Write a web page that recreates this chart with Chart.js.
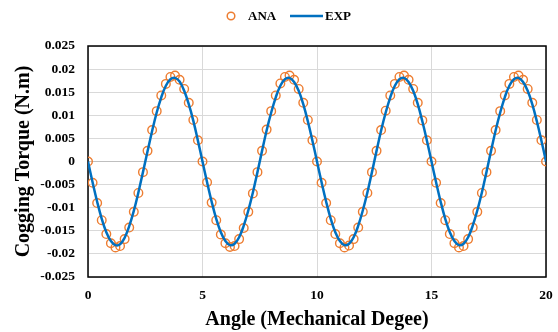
<!DOCTYPE html>
<html><head><meta charset="utf-8">
<script src="https://cdn.jsdelivr.net/npm/chart.js@4.4.1/dist/chart.umd.min.js"></script>
<style>html,body{margin:0;padding:0;background:#fff}canvas{display:block}</style>
</head><body>
<canvas id="c" width="558" height="332"></canvas>
<script>
const angles = [
 0,0.2,0.4,0.6,0.8,1,1.2,1.4,1.6,1.8,2,2.2,2.4,2.6,2.8,3,3.2,3.4,3.6,3.8,4,4.2,4.4,4.6,4.8,
 5,5.2,5.4,5.6,5.8,6,6.2,6.4,6.6,6.8,7,7.2,7.4,7.6,7.8,8,8.2,8.4,8.6,8.8,9,9.2,9.4,9.6,9.8,
 10,10.2,10.4,10.6,10.8,11,11.2,11.4,11.6,11.8,12,12.2,12.4,12.6,12.8,13,13.2,13.4,13.6,13.8,14,14.2,14.4,14.6,14.8,
 15,15.2,15.4,15.6,15.8,16,16.2,16.4,16.6,16.8,17,17.2,17.4,17.6,17.8,18,18.2,18.4,18.6,18.8,19,19.2,19.4,19.6,19.8,
 20
];
const anaTorque = [
 0,-0.0046,-0.0090,-0.0127,-0.0157,-0.0177,-0.0186,-0.0183,-0.0168,-0.0143,-0.0109,-0.0068,-0.0023,0.0023,0.0068,0.0109,0.0143,0.0168,0.0183,0.0186,0.0177,0.0157,0.0127,0.0090,0.0046,
 0,-0.0045,-0.0089,-0.0127,-0.0158,-0.0177,-0.0185,-0.0183,-0.0168,-0.0144,-0.0109,-0.0069,-0.0023,0.0023,0.0069,0.0109,0.0143,0.0169,0.0183,0.0186,0.0177,0.0157,0.0127,0.0090,0.0046,
 0,-0.0046,-0.0090,-0.0127,-0.0157,-0.0177,-0.0186,-0.0182,-0.0168,-0.0143,-0.0109,-0.0068,-0.0023,0.0023,0.0068,0.0110,0.0143,0.0168,0.0183,0.0186,0.0177,0.0157,0.0127,0.0089,0.0046,
 0,-0.0046,-0.0090,-0.0127,-0.0157,-0.0177,-0.0186,-0.0183,-0.0168,-0.0143,-0.0109,-0.0068,-0.0023,0.0023,0.0068,0.0109,0.0143,0.0168,0.0183,0.0186,0.0177,0.0157,0.0127,0.0090,0.0046,
 0
];
const expTorque = [
 0,-0.0045,-0.0087,-0.0124,-0.0153,-0.0172,-0.0181,-0.0179,-0.0165,-0.0140,-0.0107,-0.0067,-0.0023,0.0022,0.0066,0.0106,0.0139,0.0164,0.0178,0.0181,0.0173,0.0153,0.0124,0.0088,0.0045,
 0,-0.0045,-0.0087,-0.0124,-0.0153,-0.0172,-0.0181,-0.0178,-0.0164,-0.0139,-0.0106,-0.0067,-0.0023,0.0023,0.0067,0.0106,0.0139,0.0164,0.0178,0.0181,0.0172,0.0153,0.0124,0.0087,0.0045,
 0,-0.0045,-0.0087,-0.0124,-0.0153,-0.0172,-0.0181,-0.0178,-0.0164,-0.0139,-0.0106,-0.0067,-0.0023,0.0023,0.0067,0.0106,0.0139,0.0164,0.0178,0.0181,0.0172,0.0153,0.0124,0.0087,0.0045,
 0,-0.0045,-0.0087,-0.0124,-0.0153,-0.0172,-0.0181,-0.0178,-0.0164,-0.0139,-0.0106,-0.0067,-0.0023,0.0023,0.0067,0.0106,0.0139,0.0164,0.0178,0.0181,0.0172,0.0153,0.0124,0.0087,0.0045,
 0
];
const seriesNames = ['ANA', 'EXP'];
const xTicks = [0, 5, 10, 15, 20];
const yTicks = [-0.025, -0.02, -0.015, -0.01, -0.005, 0, 0.005, 0.01, 0.015, 0.02, 0.025];
const yTickLabels = ['-0.025', '-0.02', '-0.015', '-0.01', '-0.005', '0', '0.005', '0.01', '0.015', '0.02', '0.025'];
const xTitle = 'Angle (Mechanical Degee)';
const yTitle = 'Cogging Torque (N.m)';

const SERIF = '"Liberation Serif", "Times New Roman", serif';
const ORANGE = '#ED7D31';
const BLUE = '#0070C0';

const boxPlugin = {
  id: 'box',
  beforeDatasetsDraw(chart) {
    const a = chart.chartArea, ctx = chart.ctx;
    ctx.save();
    ctx.strokeStyle = '#000';
    ctx.lineWidth = 1.5;
    ctx.strokeRect(a.left, a.top, a.right - a.left, a.bottom - a.top);
    ctx.restore();
  }
};

const legendPlugin = {
  id: 'customLegend',
  afterDraw(chart) {
    const ctx = chart.ctx;
    const ds = chart.data.datasets;
    const y = 16;
    ctx.save();
    ctx.font = 'bold 13px ' + SERIF;
    ctx.textBaseline = 'middle';
    ctx.fillStyle = '#000';
    ctx.beginPath();
    ctx.arc(231, y, 3.8, 0, Math.PI * 2);
    ctx.strokeStyle = ds[0].borderColor;
    ctx.lineWidth = 1.5;
    ctx.stroke();
    ctx.fillText(ds[0].label, 248, y + 1);
    ctx.beginPath();
    ctx.moveTo(290, y);
    ctx.lineTo(323, y);
    ctx.strokeStyle = ds[1].borderColor;
    ctx.lineWidth = 2.5;
    ctx.stroke();
    ctx.fillText(ds[1].label, 325, y + 1);
    ctx.restore();
  }
};

new Chart(document.getElementById('c'), {
  type: 'line',
  data: {
    datasets: [
      {
        label: seriesNames[0],
        data: angles.map((x, i) => ({x, y: anaTorque[i]})),
        showLine: false,
        borderColor: ORANGE,
        backgroundColor: 'rgba(0,0,0,0)',
        pointRadius: 4.3,
        pointBorderWidth: 1.4,
        pointBorderColor: ORANGE,
        pointBackgroundColor: 'rgba(0,0,0,0)',
        order: 2
      },
      {
        label: seriesNames[1],
        data: angles.map((x, i) => ({x, y: expTorque[i]})),
        borderColor: BLUE,
        backgroundColor: BLUE,
        borderWidth: 2.5,
        pointRadius: 0,
        tension: 0.4,
        order: 1
      }
    ]
  },
  options: {
    responsive: false,
    animation: false,
    devicePixelRatio: 1,
    layout: { padding: { top: 46, right: 12, left: 0, bottom: 0 } },
    plugins: { legend: { display: false }, tooltip: { enabled: false } },
    scales: {
      x: {
        type: 'linear', min: 0, max: 20,
        afterBuildTicks: s => { s.ticks = xTicks.map(v => ({value: v})); },
        afterFit: s => { s.height = 55; s.paddingRight = 0; s.paddingLeft = 0; },
        grid: { color: '#d9d9d9', lineWidth: 1, drawTicks: false },
        border: { display: false },
        ticks: { color: '#000', padding: 10, maxRotation: 0, font: { family: SERIF, size: 13.5, weight: 'bold' } },
        title: { display: true, text: xTitle, color: '#000', padding: { top: 0, bottom: 0 }, font: { family: SERIF, size: 20, weight: 'bold' } }
      },
      y: {
        type: 'linear', min: -0.025, max: 0.025,
        afterBuildTicks: s => { s.ticks = yTicks.map(v => ({value: v})); },
        afterFit: s => { s.width = 88; s.paddingTop = 0; s.paddingBottom = 0; },
        grid: {
          color: c => (c.tick && c.tick.value === 0) ? '#bfbfbf' : '#d9d9d9',
          lineWidth: 1, drawTicks: false
        },
        border: { display: false },
        ticks: {
          color: '#000', padding: 13,
          font: { family: SERIF, size: 13.5, weight: 'bold' },
          callback: (v, i) => yTickLabels[yTicks.indexOf(v)] ?? String(v)
        },
        title: { display: true, text: yTitle, color: '#000', padding: { top: 12, bottom: 0 }, font: { family: SERIF, size: 20, weight: 'bold' } }
      }
    }
  },
  plugins: [boxPlugin, legendPlugin]
});
</script>
</body></html>
